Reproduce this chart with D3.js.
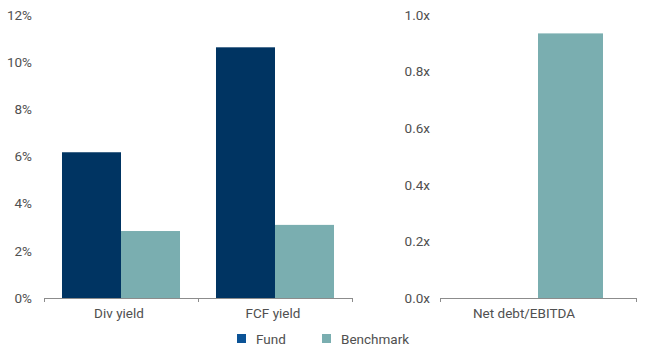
<!DOCTYPE html>
<html lang="en">
<head>
<meta charset="UTF-8">
<title>Fund vs Benchmark</title>
<script src="https://cdn.jsdelivr.net/npm/d3@7"></script>
<style>
    body { margin: 0; background: #fff; }
    .lbl { font-family: Roboto, 'Liberation Sans', sans-serif; font-size: 13.5px; font-weight: 400; fill: #505050; }
</style>
</head>
<body>
<div id="grafico"></div>
<script>
// datos
var yieldCats = ["Div yield", "FCF yield"];
var fundYield = [6.18, 10.63];
var benchYield = [2.84, 3.10];
var yieldTicks = [0, 2, 4, 6, 8, 10, 12];

var debtCats = ["Net debt/EBITDA"];
var fundDebt = [0];
var benchDebt = [0.935];
var debtTicks = [0, 0.2, 0.4, 0.6, 0.8, 1.0];

var series = ["Fund", "Benchmark"];
var colores = { Fund: "#003462", Benchmark: "#7aaeb0" };
var coloresLeyenda = { Fund: "#0b5396", Benchmark: "#7aaeb0" };

var w = 650, h = 353;
var yTop = 15, yBase = 298;

var svg = d3.select("#grafico").append("svg")
    .attr("width", w)
    .attr("height", h);

function panel(cats, fund, bench, ticks, maxV, x0, x1, labelX, pad, catShift, fmt) {
    var xScale = d3.scaleBand().domain(cats).range([x0, x1]).padding(0);
    var yScale = d3.scaleLinear().domain([0, maxV]).range([yBase, yTop]);
    var sub = d3.scaleBand().domain(series).range([0, xScale.bandwidth()])
        .paddingOuter(pad).paddingInner(0);

    var rows = cats.map(function(c, i) {
        return { cat: c, vals: [{ s: "Fund", v: fund[i] }, { s: "Benchmark", v: bench[i] }] };
    });

    var g = svg.append("g");
    g.selectAll("g.grupo")
        .data(rows)
        .enter()
        .append("g")
        .attr("transform", function(d) { return "translate(" + xScale(d.cat) + ",0)"; })
        .selectAll("rect")
        .data(function(d) { return d.vals; })
        .enter()
        .append("rect")
        .attr("x", function(d) { return sub(d.s); })
        .attr("width", sub.bandwidth())
        .attr("y", function(d) { return yScale(d.v); })
        .attr("height", function(d) { return yBase - yScale(d.v); })
        .attr("fill", function(d) { return colores[d.s]; });

    // etiquetas eje y
    g.selectAll("text.ytick")
        .data(ticks)
        .enter()
        .append("text")
        .attr("class", "lbl")
        .attr("x", labelX)
        .attr("y", function(d) { return yScale(d); })
        .attr("dy", "0.35em")
        .attr("text-anchor", "end")
        .text(fmt);

    // eje base con marcas en los bordes
    var edges = [x0].concat(cats.map(function(c) { return xScale(c) + xScale.bandwidth(); }));
    g.append("line")
        .attr("x1", x0).attr("x2", x1)
        .attr("y1", yBase + 0.5).attr("y2", yBase + 0.5)
        .attr("stroke", "#8c8c8c");
    g.selectAll("line.tk")
        .data(edges)
        .enter()
        .append("line")
        .attr("x1", function(d) { return Math.round(d) + 0.5; })
        .attr("x2", function(d) { return Math.round(d) + 0.5; })
        .attr("y1", yBase).attr("y2", yBase + 4)
        .attr("stroke", "#8c8c8c");

    g.selectAll("text.cat")
        .data(cats)
        .enter()
        .append("text")
        .attr("class", "lbl")
        .attr("x", function(d) { return xScale(d) + xScale.bandwidth() / 2 + catShift; })
        .attr("y", 318)
        .attr("text-anchor", "middle")
        .text(function(d) { return d; });
}

panel(yieldCats, fundYield, benchYield, yieldTicks, 12, 44, 352, 32, 0.305, -2,
    function(d) { return d + "%"; });
panel(debtCats, fundDebt, benchDebt, debtTicks, 1.0, 440, 636, 430, 0.508, -14,
    function(d) { return d3.format(".1f")(d) + "x"; });

// leyenda
var leyenda = svg.append("g").attr("transform", "translate(237,334)");
var itemX = [0, 85];
series.forEach(function(s, i) {
    leyenda.append("rect")
        .attr("x", itemX[i]).attr("y", 0)
        .attr("width", 9).attr("height", 9)
        .attr("fill", coloresLeyenda[s]);
    leyenda.append("text")
        .attr("class", "lbl")
        .attr("x", itemX[i] + 19).attr("y", 5)
        .attr("dy", "0.35em")
        .text(s);
});
</script>
</body>
</html>
